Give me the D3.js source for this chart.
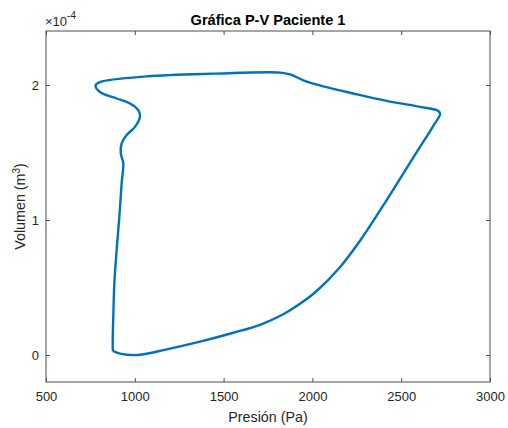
<!DOCTYPE html>
<html>
<head>
<meta charset="utf-8">
<script src="https://cdn.jsdelivr.net/npm/d3@7"></script>
<style>
  html, body { margin: 0; padding: 0; background: #fff; }
  svg { display: block; font-family: "Liberation Sans", Arial, Helvetica, sans-serif; }
</style>
</head>
<body>
<svg id="chart" width="508" height="428"></svg>
<script>
// Pressure (Pa) along the P-V loop
const pressure = [877, 917, 1020, 1180, 1367, 1555, 1705, 1836, 1930, 2024, 2155, 2268, 2399, 2493, 2587, 2681, 2719, 2709, 2606, 2418, 2230, 2062, 1949, 1874, 1818, 1440, 1067, 804, 779, 804, 898, 973, 1020, 1029, 1001, 954, 926, 921, 935, 926, 913, 898, 885, 879, 876, 876, 877];
// Volume (x1e-4 m^3)
const volume = [0.030, 0.010, 0.000, 0.042, 0.099, 0.165, 0.224, 0.302, 0.379, 0.474, 0.650, 0.846, 1.108, 1.305, 1.502, 1.698, 1.785, 1.808, 1.838, 1.882, 1.937, 1.990, 2.035, 2.079, 2.092, 2.084, 2.064, 2.022, 1.998, 1.948, 1.900, 1.863, 1.813, 1.764, 1.690, 1.629, 1.568, 1.494, 1.422, 1.275, 1.026, 0.780, 0.537, 0.288, 0.140, 0.042, 0.030];
const xTicks = [500, 1000, 1500, 2000, 2500, 3000];
const yTicks = [0, 1, 2];
const title = "Gráfica P-V Paciente 1";
const xLabel = "Presión (Pa)";

const svg = d3.select("#chart");
const L = 46, R = 490, T = 31, B = 382;
const x = d3.scaleLinear().domain([500, 3000]).range([L, R]);
const y = d3.scaleLinear().domain([-0.2, 2.4]).range([B, T]);
const ink = "#262626";

// box
svg.append("rect").attr("x", L).attr("y", T).attr("width", R - L).attr("height", B - T)
  .attr("fill", "none").attr("stroke", "#4d4d4d").attr("stroke-width", 1);

// axes with inward ticks
const gx = svg.append("g").attr("transform", `translate(0,${B})`)
  .call(d3.axisBottom(x).tickValues(xTicks).tickSize(-4).tickPadding(10).tickFormat(d3.format("d")));
const gxt = svg.append("g").attr("transform", `translate(0,${T})`)
  .call(d3.axisTop(x).tickValues(xTicks).tickSize(-4).tickFormat(""));
const gy = svg.append("g").attr("transform", `translate(${L},0)`)
  .call(d3.axisLeft(y).tickValues(yTicks).tickSize(-4).tickPadding(7).tickFormat(d3.format("d")));
const gyr = svg.append("g").attr("transform", `translate(${R},0)`)
  .call(d3.axisRight(y).tickValues(yTicks).tickSize(-4).tickFormat(""));
[gx, gxt, gy, gyr].forEach(g => {
  g.select(".domain").remove();
  g.selectAll(".tick line").attr("stroke", "#4d4d4d");
  g.selectAll("text").attr("fill", ink).attr("font-size", 13)
    .attr("font-family", '"Liberation Sans", Arial, sans-serif');
});

// data line
const pts = pressure.map((p, i) => [p, volume[i]]);
const line = d3.line().x(d => x(d[0])).y(d => y(d[1])).curve(d3.curveCatmullRom.alpha(0.5));
svg.append("path").datum(pts).attr("d", line)
  .attr("fill", "none").attr("stroke", "#0072BD").attr("stroke-width", 2.4)
  .attr("stroke-linejoin", "round");

// title
svg.append("text").attr("x", (L + R) / 2).attr("y", 25).attr("text-anchor", "middle")
  .attr("font-size", 14.6).attr("font-weight", "bold").attr("fill", "#000").text(title);

// exponent label
const ex = svg.append("text").attr("x", L - 1).attr("y", 26).attr("font-size", 13).attr("fill", ink);
ex.append("tspan").text("×10");
ex.append("tspan").attr("dy", -7).attr("font-size", 10).text("-4");

// x label
svg.append("text").attr("x", (L + R) / 2).attr("y", 422).attr("text-anchor", "middle")
  .attr("font-size", 14.3).attr("fill", ink).text(xLabel);

// y label
const yl = svg.append("text").attr("transform", `translate(25,${(T + B) / 2}) rotate(-90)`)
  .attr("text-anchor", "middle").attr("font-size", 14.3).attr("fill", ink);
yl.append("tspan").text("Volumen (m");
yl.append("tspan").attr("dy", -5).attr("font-size", 10).text("3");
yl.append("tspan").attr("dy", 5).text(")");
</script>
</body>
</html>
